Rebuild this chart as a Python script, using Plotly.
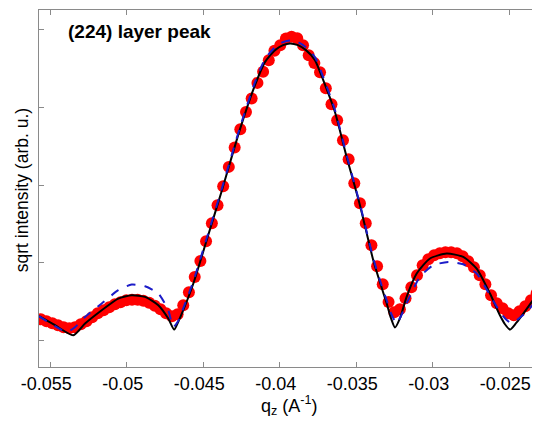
import plotly.graph_objects as go

# measured data (red dots)
q_data = [-0.05562, -0.05525, -0.05487, -0.05450, -0.05413, -0.05376, -0.05339, -0.05301,
          -0.05264, -0.05227, -0.05190, -0.05152, -0.05115, -0.05078, -0.05041, -0.05003,
          -0.04966, -0.04929, -0.04892, -0.04854, -0.04817, -0.04780, -0.04743, -0.04705,
          -0.04668, -0.04631, -0.04594, -0.04556, -0.04519, -0.04482, -0.04444, -0.04407,
          -0.04370, -0.04333, -0.04295, -0.04258, -0.04221, -0.04184, -0.04146, -0.04109,
          -0.04072, -0.04035, -0.03997, -0.03960, -0.03923, -0.03886, -0.03848, -0.03811,
          -0.03774, -0.03737, -0.03699, -0.03662, -0.03625, -0.03587, -0.03550, -0.03513,
          -0.03476, -0.03438, -0.03401, -0.03364, -0.03327, -0.03289, -0.03252, -0.03215,
          -0.03178, -0.03140, -0.03103, -0.03066, -0.03029, -0.02991, -0.02954, -0.02917,
          -0.02880, -0.02842, -0.02805, -0.02768, -0.02731, -0.02693, -0.02656, -0.02619,
          -0.02582, -0.02544, -0.02507, -0.02470, -0.02433, -0.02395, -0.02358, -0.02321]
i_data = [0.274, 0.248, 0.223, 0.197, 0.171, 0.158, 0.171, 0.210,
          0.248, 0.300, 0.351, 0.390, 0.428, 0.467, 0.493, 0.518,
          0.525, 0.525, 0.512, 0.486, 0.447, 0.403, 0.351, 0.313,
          0.338, 0.454, 0.621, 0.817, 1.023, 1.277, 1.509, 1.740,
          1.984, 2.233, 2.482, 2.718, 2.940, 3.113, 3.313, 3.455,
          3.605, 3.725, 3.798, 3.884, 3.905, 3.888, 3.798, 3.669,
          3.567, 3.451, 3.245, 3.039, 2.833, 2.576, 2.332, 2.023,
          1.766, 1.509, 1.226, 0.956, 0.724, 0.496, 0.364, 0.403,
          0.544, 0.686, 0.840, 0.968, 1.046, 1.097, 1.123, 1.136,
          1.136, 1.123, 1.084, 1.020, 0.943, 0.840, 0.724, 0.583,
          0.480, 0.415, 0.351, 0.325, 0.377, 0.441, 0.518, 0.608]

# fit 1 (black solid)
q_fit1 = [-0.05574, -0.05469, -0.05350, -0.05273, -0.05164, -0.05056, -0.04968, -0.04881,
          -0.04794, -0.04729, -0.04690, -0.04665, -0.04631, -0.04565, -0.04478, -0.04378,
          -0.04260, -0.04162, -0.04097, -0.04031, -0.03979, -0.03933, -0.03881, -0.03829,
          -0.03770, -0.03716, -0.03639, -0.03563, -0.03476, -0.03389, -0.03339, -0.03301,
          -0.03273, -0.03247, -0.03214, -0.03171, -0.03105, -0.03018, -0.02909, -0.02801,
          -0.02713, -0.02626, -0.02561, -0.02528, -0.02495, -0.02456, -0.02408, -0.02299]
i_fit1 = [0.313, 0.197, 0.068, 0.219, 0.390, 0.540, 0.583, 0.561,
          0.454, 0.283, 0.141, 0.235, 0.390, 0.733, 1.290, 1.933,
          2.718, 3.284, 3.580, 3.734, 3.798, 3.820, 3.798, 3.734,
          3.605, 3.348, 2.936, 2.361, 1.740, 1.033, 0.711, 0.476,
          0.287, 0.167, 0.287, 0.561, 0.862, 1.055, 1.119, 1.075,
          0.926, 0.605, 0.325, 0.210, 0.141, 0.223, 0.347, 0.647]

# fit 2 (blue dashed)
q_fit2 = [-0.05574, -0.05469, -0.05391, -0.05339, -0.05273, -0.05164, -0.05056, -0.04968,
          -0.04881, -0.04794, -0.04729, -0.04696, -0.04665, -0.04631, -0.04565, -0.04478,
          -0.04378, -0.04260, -0.04162, -0.04097, -0.04031, -0.03979, -0.03933, -0.03881,
          -0.03829, -0.03770, -0.03716, -0.03639, -0.03563, -0.03476, -0.03389, -0.03339,
          -0.03301, -0.03273, -0.03236, -0.03208, -0.03171, -0.03084, -0.02997, -0.02899,
          -0.02801, -0.02713, -0.02626, -0.02561, -0.02522, -0.02484, -0.02443, -0.02386,
          -0.02299]
i_fit2 = [0.313, 0.184, 0.111, 0.171, 0.304, 0.476, 0.647, 0.720,
          0.698, 0.605, 0.390, 0.175, 0.248, 0.415, 0.763, 1.316,
          1.959, 2.743, 3.322, 3.618, 3.772, 3.837, 3.859, 3.837,
          3.772, 3.644, 3.387, 2.962, 2.383, 1.753, 1.059, 0.737,
          0.518, 0.351, 0.219, 0.313, 0.476, 0.818, 0.968, 1.011,
          0.981, 0.862, 0.583, 0.368, 0.274, 0.219, 0.274, 0.368,
          0.583]

x_ticks = [-0.055, -0.05, -0.045, -0.04, -0.035, -0.03, -0.025]
x_tick_labels = ["-0.055", "-0.05", "-0.045", "-0.04", "-0.035", "-0.03", "-0.025"]
y_ticks = [0, 1, 2, 3, 4]

fig = go.Figure()
fig.add_trace(go.Scatter(x=q_data, y=i_data, mode="markers",
                         marker=dict(color="#ff0000", size=12, line=dict(width=0)),
                         showlegend=False))
fig.add_trace(go.Scatter(x=q_fit1, y=i_fit1, mode="lines",
                         line=dict(color="black", width=2, shape="spline", smoothing=0.6),
                         showlegend=False))
fig.add_trace(go.Scatter(x=q_fit2, y=i_fit2, mode="lines",
                         line=dict(color="#1c1cc8", width=2, dash="dash", shape="spline", smoothing=0.6),
                         showlegend=False))

axis_color = "#8a8a8a"
# page body has an 8px margin, so the figure is 532x413 and sits at (8, 8)
fig.update_layout(
    width=532, height=413,
    margin=dict(l=31, r=0, t=2, b=54, autoexpand=False),
    paper_bgcolor="white", plot_bgcolor="white",
    font=dict(family="Liberation Sans, Arial, sans-serif", color="black", size=18),
    xaxis=dict(range=[-0.05574, -0.02299], tickvals=x_ticks, ticktext=x_tick_labels,
               ticks="inside", ticklen=5, tickcolor=axis_color, showline=True,
               linecolor=axis_color, linewidth=1, mirror="ticks", showgrid=False,
               zeroline=False, tickfont=dict(size=18), automargin=False,
               ticklabelshift=-4),
    yaxis=dict(range=[-0.34, 4.25], tickvals=y_ticks, showticklabels=False,
               ticks="inside", ticklen=5, tickcolor=axis_color, showline=True,
               linecolor=axis_color, linewidth=1, mirror=False, showgrid=False,
               zeroline=False, automargin=False),
    annotations=[
        dict(text="<b>(224) layer peak</b>", xref="paper", yref="paper",
             x=0.053, y=0.94, xanchor="left", yanchor="middle", showarrow=False,
             font=dict(size=19, color="black")),
        dict(text="q<sub>z</sub> (A<sup>-1</sup>)", xref="paper", yref="paper",
             x=0.5, y=-0.108, xanchor="center", yanchor="middle", showarrow=False,
             font=dict(size=18, color="black")),
        dict(text="sqrt intensity (arb. u.)", xref="paper", yref="paper",
             x=-0.034, y=0.495, xanchor="center", yanchor="middle", textangle=-90,
             showarrow=False, font=dict(size=17.5, color="black")),
    ],
)

fig.write_html("out.html")
